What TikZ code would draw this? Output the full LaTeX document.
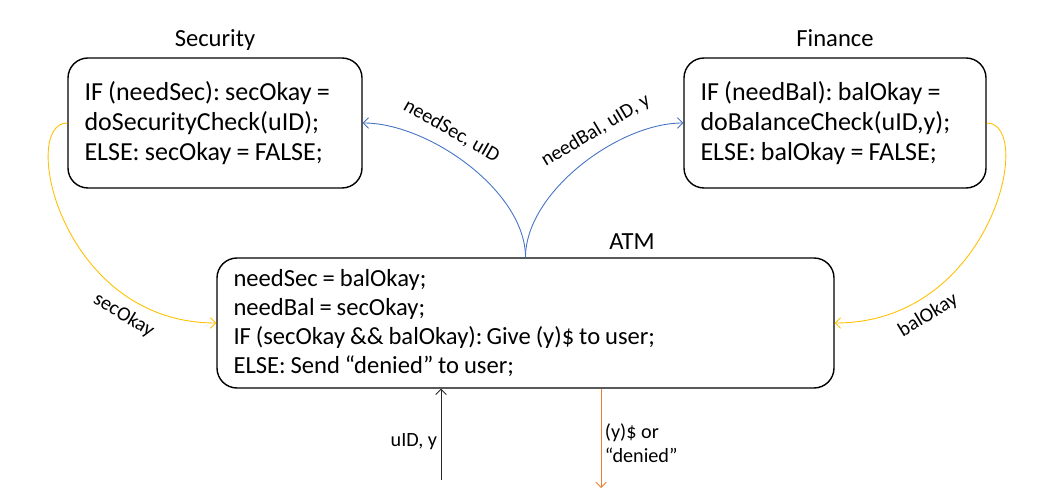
\documentclass[tikz,border=0pt]{standalone}
\usepackage{fontspec}
\setmainfont{Carlito}
\usetikzlibrary{positioning,arrows.meta}

\definecolor{flowblue}{RGB}{68,114,196}
\definecolor{flowyellow}{RGB}{255,192,0}
\definecolor{floworange}{RGB}{237,125,49}
\newcommand\tightspace{\spaceskip=0.2em plus 0.05em\relax}

\begin{document}
\frenchspacing
\begin{tikzpicture}[
		box/.style={draw, line width=0.8pt, rounded corners=0.4cm, minimum height=2.6cm,
			align=left, inner xsep=0.33cm, font=\fontsize{14.8}{17.2}\selectfont,
			execute at begin node=\tightspace},
		ttl/.style={font=\fontsize{14}{16}\selectfont, inner sep=2pt, text height=1.6ex, text depth=0.5ex},
		lbl/.style={font=\fontsize{11.5}{13.5}\selectfont, inner sep=2pt, text=black},
		arr/.style={line width=0.5pt, -{Straight Barb[length=3pt,width=6pt]}},
		rarr/.style={line width=0.5pt, {Straight Barb[length=3pt,width=6pt]}-},
	]
	\useasboundingbox (0,0) rectangle (21.28,10.02);
	% the three parties
	\node[box, text width=5.22cm] (sec) at (4.30,7.56) {IF (needSec): secOkay =\\ doSecurityCheck(uID);\\ ELSE: secOkay = FALSE;};
	\node[box, text width=5.38cm] (fin) at (16.70,7.56) {IF (needBal): balOkay =\\ doBalanceCheck(uID,y);\\ ELSE: balOkay = FALSE;};
	\node[box, text width=11.68cm, font=\fontsize{14}{16.4}\selectfont] (atm) at (10.51,3.56)
		{needSec = balOkay;\\ needBal = secOkay;\\ IF (secOkay \&\& balOkay):\,Give (y)\$ to user;\\ ELSE: Send “denied” to user;};
	\node[ttl, above=0.06cm of sec] (secT) {Security};
	\node[ttl, above=0.06cm of fin] (finT) {Finance};
	\node[ttl, above=0pt of atm.north, xshift=2.13cm] (atmT) {ATM};
	\coordinate (in) at (8.82,0.42);
	\coordinate (out) at (12.02,0.26);
	%
	\draw[rarr, flowblue] (sec.east) to[out=0,in=90,looseness=0.8]
		node[lbl, sloped, above=4pt, pos=0.37] {needSec, uID} (atm.north);
	\draw[arr, flowblue] (atm.north) to[out=90,in=180,looseness=0.8]
		node[lbl, sloped, above=4pt, pos=0.63] {needBal, uID, y} (fin.west);
	\draw[arr, flowyellow] (sec.west) to[out=180,in=180,out looseness=0.5,in looseness=1.6]
		node[lbl, sloped, below=3pt, pos=0.79] {secOkay} (atm.west);
	\draw[rarr, flowyellow] (atm.east) to[out=0,in=0,out looseness=1.6,in looseness=0.5]
		node[lbl, sloped, below=3pt, pos=0.21] {balOkay} (fin.east);
	\draw[arr, black!85] (in) -- node[lbl, left, pos=0.42] {uID, y} (in |- atm.south);
	\draw[arr, floworange] (out |- atm.south) -- node[lbl, right, align=left, pos=0.55] {(y)\$ or\\ “denied”} (out);
\end{tikzpicture}
\end{document}
